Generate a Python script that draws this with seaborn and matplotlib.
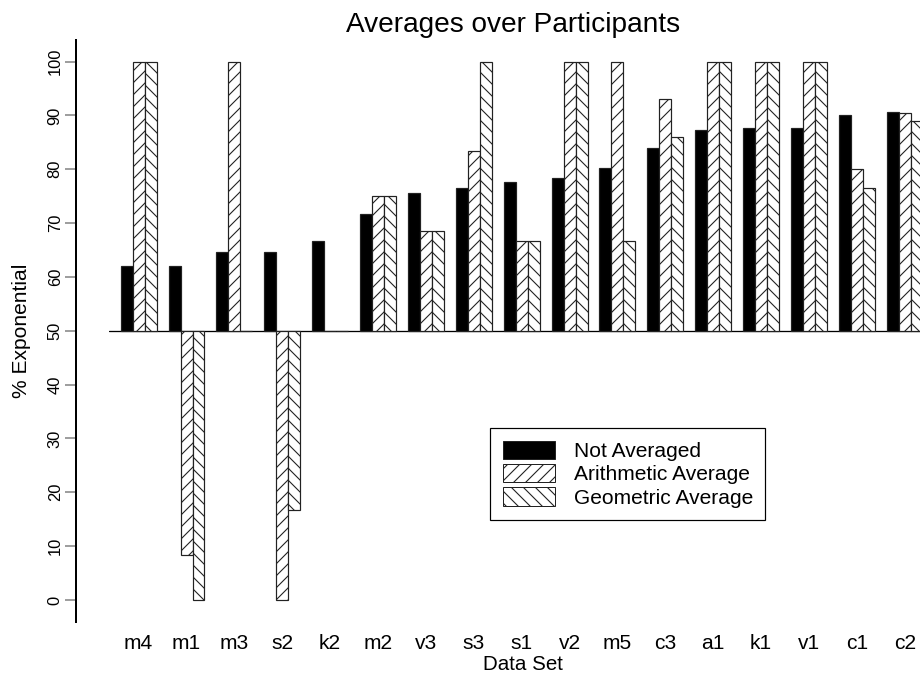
import matplotlib
matplotlib.use("Agg")
import matplotlib.pyplot as plt
from matplotlib.patches import Patch
import seaborn as sns
import pandas as pd

# ---- data ----
datasets = ['m4', 'm1', 'm3', 's2', 'k2', 'm2', 'v3', 's3', 's1', 'v2',
            'm5', 'c3', 'a1', 'k1', 'v1', 'c1', 'c2']
not_averaged = [62.0, 62.0, 64.6, 64.7, 66.7, 71.6, 75.5, 76.6, 77.7, 78.4,
                80.2, 83.9, 87.3, 87.7, 87.7, 90.0, 90.6]
arithmetic_avg = [100, 8.3, 100, 0, 50, 75, 68.6, 83.3, 66.7, 100,
                  100, 93.1, 100, 100, 100, 80.1, 90.4]
geometric_avg = [100, 0, 50, 16.7, 50, 75, 68.6, 100, 66.7, 100,
                 66.7, 86.0, 100, 100, 100, 76.6, 88.9]
series_names = ['Not Averaged', 'Arithmetic Average', 'Geometric Average']
yticks = list(range(0, 101, 10))
BASE = 50

rows = []
for name, vals in zip(series_names, [not_averaged, arithmetic_avg, geometric_avg]):
    for ds, v in zip(datasets, vals):
        rows.append({'Data Set': ds, 'Series': name, 'value': v, 'height': v - BASE})
df = pd.DataFrame(rows)

sns.set_style("ticks")
plt.rcParams['font.family'] = ['Liberation Sans', 'DejaVu Sans']
plt.rcParams['text.color'] = 'black'
plt.rcParams['axes.labelcolor'] = 'black'
plt.rcParams['hatch.linewidth'] = 1.1

W, H, DPI = 920, 679, 72
fig = plt.figure(figsize=(W / DPI, H / DPI), dpi=DPI)
ax = fig.add_axes([109.3 / W, 1 - 621.5 / H, (W - 109.3) / W, (621.5 - 40) / H])

palette = {'Not Averaged': 'black', 'Arithmetic Average': 'white',
           'Geometric Average': 'white'}
sns.barplot(data=df, x='Data Set', y='height', hue='Series', order=datasets,
            hue_order=series_names, palette=palette, saturation=1,
            width=0.75, gap=0, errorbar=None, legend=False, ax=ax,
            bottom=BASE, edgecolor='#222222', linewidth=1.2)

hatches = [None, '//', '\\\\']
for cont, h in zip(ax.containers, hatches):
    for p in cont.patches:
        if h:
            p.set_hatch(h)

ax.axhline(BASE, color='black', lw=1.3, zorder=0.5)

ax.set_ylim(-4, 104)
ax.set_xlim(-0.613, 16.319)
ax.set_yticks(yticks)
ax.set_yticklabels([str(t) for t in yticks])
ax.set_xticks(range(len(datasets)))
ax.set_xticklabels(datasets)
ax.set_xlabel('')
ax.set_ylabel('')

for s in ['top', 'right', 'bottom']:
    ax.spines[s].set_visible(False)
ax.spines['left'].set_position(('outward', 33.6))
ax.spines['left'].set_linewidth(2)
ax.spines['left'].set_color('black')

ax.tick_params(axis='y', length=11, width=1.5, color='0.5', pad=2,
               labelsize=16.5, labelcolor='black', labelrotation=90)
ax.tick_params(axis='x', length=0, pad=12.5, labelsize=21, labelcolor='black')
for lbl in ax.get_yticklabels():
    lbl.set_verticalalignment('center')

fig.text(513 / W, 1 - 31.7 / H, 'Averages over Participants', ha='center',
         va='baseline', fontsize=28, color='black')
fig.text(523 / W, 1 - 670 / H, 'Data Set', ha='center', va='baseline',
         fontsize=20.5, color='black')
fig.text(22 / W, 1 - 331 / H, '% Exponential', rotation=90, ha='center',
         va='center', fontsize=21, color='black')

handles = [Patch(facecolor='black', edgecolor='#222222'),
           Patch(facecolor='white', edgecolor='#222222', hatch='//'),
           Patch(facecolor='white', edgecolor='#222222', hatch='\\\\')]
FS = 21
leg = fig.legend(handles, series_names, loc='upper left',
                 bbox_to_anchor=(490 / W, 1 - 428 / H),
                 bbox_transform=fig.transFigure, borderaxespad=0,
                 fontsize=FS, handlelength=52 / FS, handleheight=20 / FS,
                 handletextpad=0.9, labelspacing=0.15, borderpad=0.6,
                 fancybox=False, framealpha=1, edgecolor='black')
leg.get_frame().set_linewidth(1.2)
for t in leg.get_texts():
    t.set_color('black')

fig.savefig('out.png', dpi=DPI)
